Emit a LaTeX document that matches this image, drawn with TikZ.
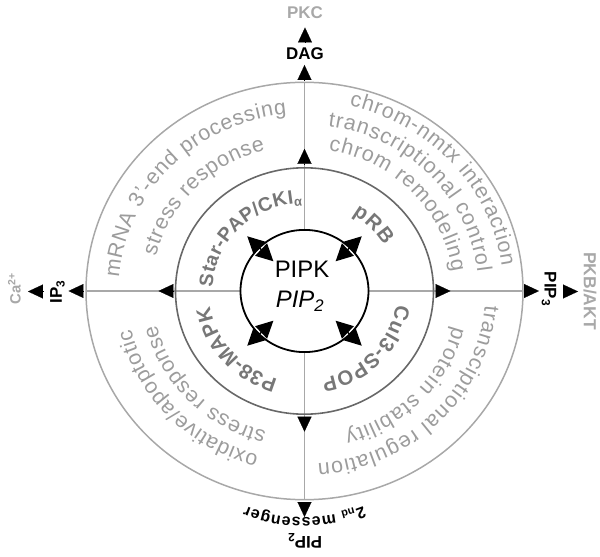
\documentclass[tikz,border=0pt]{standalone}
\usepackage{fontspec}
\setmainfont{Liberation Sans}
\usetikzlibrary{arrows.meta,decorations.text,calc}
\definecolor{ringgray}{HTML}{A8A8A8}
\definecolor{midgray}{HTML}{686868}
\definecolor{outtext}{HTML}{9C9C9C}
\definecolor{midtext}{HTML}{777777}
\definecolor{sidegray}{HTML}{A8A8A8}
\newcommand\fs[1]{\fontsize{#1}{#1}\selectfont}
\newcommand\ringtxt[5]{%
  \pgfmathsetmacro\ry{0.955*#5}%
  \path[#1={#2}] (#3:#5 and \ry) arc[start angle=#3, end angle=#4, x radius=#5, y radius=\ry];}
\begin{document}
\begin{tikzpicture}[x=1bp,y=1bp,
  spoke/.style={draw=ringgray, line width=1.5bp},
  tipar/.style={-{Triangle[length=15bp,width=14bp]}, black, line width=0.2bp},
  dbl/.style={{Triangle[length=17bp,width=17bp]}-{Triangle[length=17bp,width=17bp]}, black, line width=1.4bp},
  outtxt/.style={decorate, decoration={text along path, text align=fit to path, text color=outtext, text={|\fs{21.5}|#1}}},
  midtxt/.style={decorate, decoration={text along path, text align=fit to path, text color=midtext, text={|\fs{20.5}\bfseries|#1}}},
  midtxtsmall/.style={decorate, decoration={text along path, text align=fit to path, text color=midtext, text={|\fs{19.5}\bfseries|#1}}},
  lab/.style={font=\fs{17}\bfseries, inner sep=0pt},
  slab/.style={font=\fs{17}\bfseries, text=sidegray, inner sep=0pt}]
\useasboundingbox (-304.5,-266) rectangle (295.5,291);
% spoke coordinates
\coordinate (ir) at (64,0);   \coordinate (mr) at (129,0);    \coordinate (or) at (218.5,0);
\coordinate (il) at (-64,0);  \coordinate (ml) at (-129,0);   \coordinate (ol) at (-218.5,0);
\coordinate (it) at (0,61.1); \coordinate (mt) at (0,123.2);  \coordinate (ot) at (0,208.7);
\coordinate (ib) at (0,-61.1);\coordinate (mb) at (0,-123.2); \coordinate (ob) at (0,-208.7);
\draw[spoke] (ir) -- (or);
\draw[spoke] (il) -- (ol);
\draw[spoke] (it) -- (ot);
\draw[spoke] (ib) -- (ob);
% circles
\draw[draw=ringgray, line width=1.5bp] (0,0) ellipse[x radius=218.5, y radius=208.7];
\draw[draw=midgray, line width=1.6bp] (0,0) ellipse[x radius=129, y radius=123.2];
\draw[black, line width=1.8bp] (0,0) ellipse[x radius=64, y radius=61.1];
% spoke arrowheads
\draw[tipar] (mr) ++(2,0) -- ++(15,0);
\draw[tipar] (or) ++(1,0) -- ++(15,0);
\draw[tipar] (ml) ++(-2,0) -- ++(-15,0);
\draw[tipar] (ol) ++(-2.5,0) -- ++(-15,0);
\draw[tipar] (mt) ++(0,4) -- ++(0,15);
\draw[tipar] (ot) ++(0,2.3) -- ++(0,15);
\draw[tipar] (mb) ++(0,-2.5) -- ++(0,-15);
\draw[tipar] (ob) ++(0,-2.3) -- ++(0,-15);
% double arrows on inner circle
\foreach \a in {45,135,225,315}{
  \draw[dbl] (\a:44 and 42) -- (\a:81 and 77.4);
}
% centre labels
\node[font=\fs{24}, anchor=base, inner sep=0pt] (pipk) at (-2.5,13) {PIPK};
\node[font=\fs{24}, anchor=base, inner sep=0pt] (pip2c) at (-4.5,-16.5) {\textit{PIP\textsubscript{2}}};
% middle ring texts
\ringtxt{midtxtsmall}{Star-PAP/CKI{\raisebox{-3bp}{\fs{13}\bfseries α}}}{177.5}{91.5}{92}
\ringtxt{midtxt}{pRB}{59}{31}{93}
\ringtxt{midtxt}{Cul3-SPOP}{-9}{-79.5}{93}
\ringtxt{midtxt}{P38-MAPK}{253.8}{189.8}{96}
% outer ring texts
\ringtxt{outtxt}{mRNA 3'-end processing}{175.8}{95.5}{186}
\ringtxt{outtxt}{stress response}{166.2}{104.9}{153}
\ringtxt{outtxt}{chrom-nmtx interaction}{77}{7.4}{199}
\ringtxt{outtxt}{transcriptional control}{82.2}{6.5}{174}
\ringtxt{outtxt}{chrom remodeling}{80.7}{7.8}{149}
\ringtxt{outtxt}{transciptional regulation}{-4.7}{-85.8}{181}
\ringtxt{outtxt}{protein stability}{-13.9}{-74.8}{153}
\ringtxt{outtxt}{oxidative/apoptotic}{255.1}{193}{178}
\ringtxt{outtxt}{stress response}{255.5}{193.4}{152}
% outside labels
\node[lab] (dag) at (0.5,237.5) {DAG};
\node[slab] (pkc) at (0.5,278) {PKC};
\draw[tipar] (0.5,249) -- (0.5,263.5);
\node[lab, rotate=90] (ip3) at (-247,-1) {IP\textsubscript{3}};
\node[slab, rotate=90, font=\fs{15}\bfseries] (ca) at (-290,2) {Ca\textsuperscript{2+}};
\draw[tipar] (-261.5,-0.5) -- (-276.5,-0.5);
\node[lab, rotate=-90] (pip3) at (244.5,2) {PIP\textsubscript{3}};
\node[slab, rotate=-90, font=\fs{17.5}\bfseries] (pkb) at (285.5,0) {PKB/AKT};
\draw[tipar] (258.5,-0.5) -- (273.5,-0.5);
\node[lab, rotate=180] (pip2) at (0.5,-250) {PIP\textsubscript{2}};
\path[decorate, decoration={text along path, text align=fit to path, text color=black,
  text={|\fs{16}\bfseries|2{\raisebox{-2bp}{\fs{11}\bfseries nd}} messenger}}]
  (0,-69.7) ++(-68:157) arc[start angle=-68, end angle=-112, radius=157];
\end{tikzpicture}
\end{document}
